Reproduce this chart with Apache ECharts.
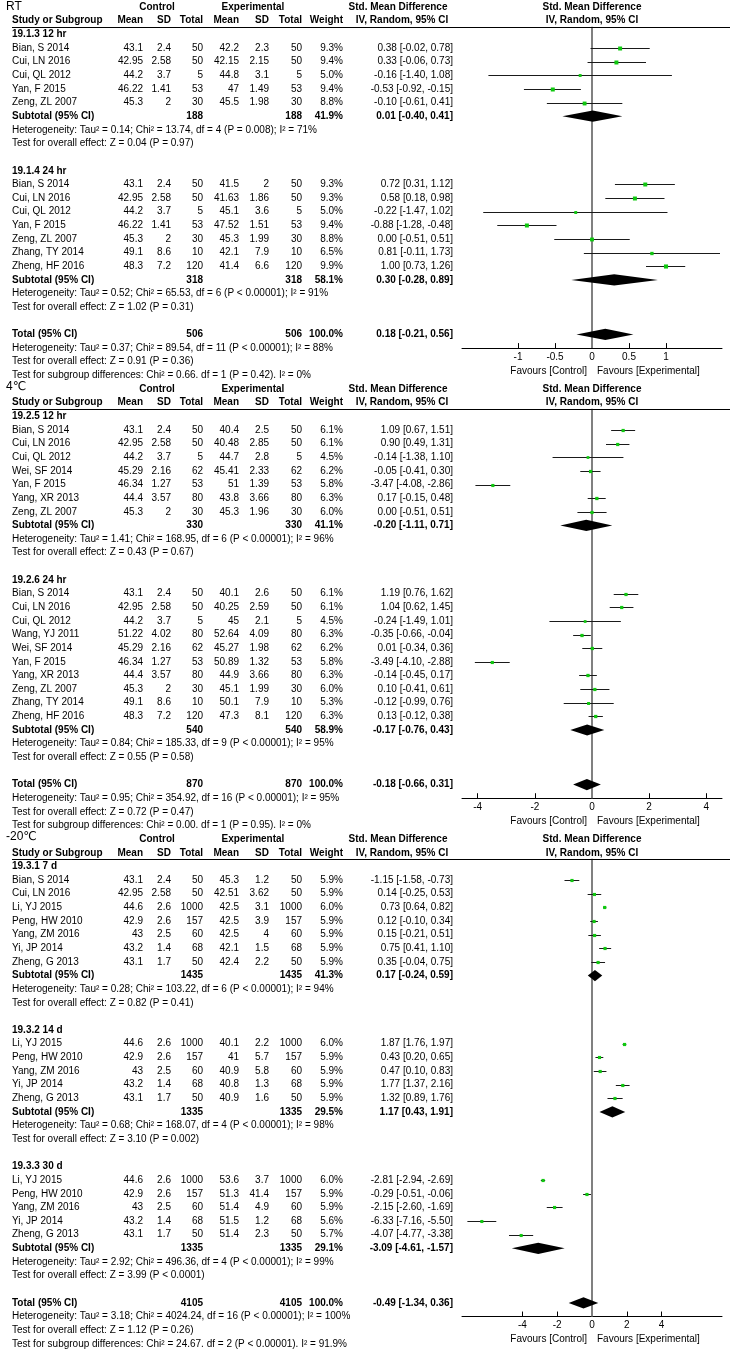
<!DOCTYPE html>
<html><head><meta charset="utf-8">
<script src="https://cdn.jsdelivr.net/npm/echarts@6/dist/echarts.min.js"></script>
<style>html,body{margin:0;padding:0;background:#fff}#c{width:732px;height:1352px}</style>
</head><body><div id="c"></div>
<script>
// ---------- DATA ----------
const panelLabels = ['RT', '4℃', '-20℃'];
const subgroupTitles = ['19.1.3 12 hr', '19.1.4 24 hr', '19.2.5 12 hr', '19.2.6 24 hr', '19.3.1 7 d', '19.3.2 14 d', '19.3.3 30 d'];
// study, ctrl mean, ctrl sd, ctrl n, exp mean, exp sd, exp n, weight %, smd, lower, upper
const rt12hr = [
  ['Bian, S 2014', 43.1, 2.4, 50, 42.2, 2.3, 50, 9.3, 0.38, -0.02, 0.78],
  ['Cui, LN 2016', 42.95, 2.58, 50, 42.15, 2.15, 50, 9.4, 0.33, -0.06, 0.73],
  ['Cui, QL 2012', 44.2, 3.7, 5, 44.8, 3.1, 5, 5.0, -0.16, -1.40, 1.08],
  ['Yan, F 2015', 46.22, 1.41, 53, 47, 1.49, 53, 9.4, -0.53, -0.92, -0.15],
  ['Zeng, ZL 2007', 45.3, 2, 30, 45.5, 1.98, 30, 8.8, -0.10, -0.61, 0.41]
];
const rt12hrSub = [188, 188, 41.9, 0.01, -0.40, 0.41];
const rt12hrStats = ['Heterogeneity: Tau² = 0.14; Chi² = 13.74, df = 4 (P = 0.008); I² = 71%', 'Test for overall effect: Z = 0.04 (P = 0.97)'];
const rt24hr = [
  ['Bian, S 2014', 43.1, 2.4, 50, 41.5, 2, 50, 9.3, 0.72, 0.31, 1.12],
  ['Cui, LN 2016', 42.95, 2.58, 50, 41.63, 1.86, 50, 9.3, 0.58, 0.18, 0.98],
  ['Cui, QL 2012', 44.2, 3.7, 5, 45.1, 3.6, 5, 5.0, -0.22, -1.47, 1.02],
  ['Yan, F 2015', 46.22, 1.41, 53, 47.52, 1.51, 53, 9.4, -0.88, -1.28, -0.48],
  ['Zeng, ZL 2007', 45.3, 2, 30, 45.3, 1.99, 30, 8.8, 0.00, -0.51, 0.51],
  ['Zhang, TY 2014', 49.1, 8.6, 10, 42.1, 7.9, 10, 6.5, 0.81, -0.11, 1.73],
  ['Zheng, HF 2016', 48.3, 7.2, 120, 41.4, 6.6, 120, 9.9, 1.00, 0.73, 1.26]
];
const rt24hrSub = [318, 318, 58.1, 0.30, -0.28, 0.89];
const rt24hrStats = ['Heterogeneity: Tau² = 0.52; Chi² = 65.53, df = 6 (P < 0.00001); I² = 91%', 'Test for overall effect: Z = 1.02 (P = 0.31)'];
const rtTotal = [506, 506, 100.0, 0.18, -0.21, 0.56];
const rtTotalStats = ['Heterogeneity: Tau² = 0.37; Chi² = 89.54, df = 11 (P < 0.00001); I² = 88%', 'Test for overall effect: Z = 0.91 (P = 0.36)', 'Test for subgroup differences: Chi² = 0.66. df = 1 (P = 0.42). I² = 0%'];
const rtTicks = [-1, -0.5, 0, 0.5, 1];

const c4_12hr = [
  ['Bian, S 2014', 43.1, 2.4, 50, 40.4, 2.5, 50, 6.1, 1.09, 0.67, 1.51],
  ['Cui, LN 2016', 42.95, 2.58, 50, 40.48, 2.85, 50, 6.1, 0.90, 0.49, 1.31],
  ['Cui, QL 2012', 44.2, 3.7, 5, 44.7, 2.8, 5, 4.5, -0.14, -1.38, 1.10],
  ['Wei, SF 2014', 45.29, 2.16, 62, 45.41, 2.33, 62, 6.2, -0.05, -0.41, 0.30],
  ['Yan, F 2015', 46.34, 1.27, 53, 51, 1.39, 53, 5.8, -3.47, -4.08, -2.86],
  ['Yang, XR 2013', 44.4, 3.57, 80, 43.8, 3.66, 80, 6.3, 0.17, -0.15, 0.48],
  ['Zeng, ZL 2007', 45.3, 2, 30, 45.3, 1.96, 30, 6.0, 0.00, -0.51, 0.51]
];
const c4_12hrSub = [330, 330, 41.1, -0.20, -1.11, 0.71];
const c4_12hrStats = ['Heterogeneity: Tau² = 1.41; Chi² = 168.95, df = 6 (P < 0.00001); I² = 96%', 'Test for overall effect: Z = 0.43 (P = 0.67)'];
const c4_24hr = [
  ['Bian, S 2014', 43.1, 2.4, 50, 40.1, 2.6, 50, 6.1, 1.19, 0.76, 1.62],
  ['Cui, LN 2016', 42.95, 2.58, 50, 40.25, 2.59, 50, 6.1, 1.04, 0.62, 1.45],
  ['Cui, QL 2012', 44.2, 3.7, 5, 45, 2.1, 5, 4.5, -0.24, -1.49, 1.01],
  ['Wang, YJ 2011', 51.22, 4.02, 80, 52.64, 4.09, 80, 6.3, -0.35, -0.66, -0.04],
  ['Wei, SF 2014', 45.29, 2.16, 62, 45.27, 1.98, 62, 6.2, 0.01, -0.34, 0.36],
  ['Yan, F 2015', 46.34, 1.27, 53, 50.89, 1.32, 53, 5.8, -3.49, -4.10, -2.88],
  ['Yang, XR 2013', 44.4, 3.57, 80, 44.9, 3.66, 80, 6.3, -0.14, -0.45, 0.17],
  ['Zeng, ZL 2007', 45.3, 2, 30, 45.1, 1.99, 30, 6.0, 0.10, -0.41, 0.61],
  ['Zhang, TY 2014', 49.1, 8.6, 10, 50.1, 7.9, 10, 5.3, -0.12, -0.99, 0.76],
  ['Zheng, HF 2016', 48.3, 7.2, 120, 47.3, 8.1, 120, 6.3, 0.13, -0.12, 0.38]
];
const c4_24hrSub = [540, 540, 58.9, -0.17, -0.76, 0.43];
const c4_24hrStats = ['Heterogeneity: Tau² = 0.84; Chi² = 185.33, df = 9 (P < 0.00001); I² = 95%', 'Test for overall effect: Z = 0.55 (P = 0.58)'];
const c4Total = [870, 870, 100.0, -0.18, -0.66, 0.31];
const c4TotalStats = ['Heterogeneity: Tau² = 0.95; Chi² = 354.92, df = 16 (P < 0.00001); I² = 95%', 'Test for overall effect: Z = 0.72 (P = 0.47)', 'Test for subgroup differences: Chi² = 0.00. df = 1 (P = 0.95). I² = 0%'];
const c4Ticks = [-4, -2, 0, 2, 4];

const m20_7d = [
  ['Bian, S 2014', 43.1, 2.4, 50, 45.3, 1.2, 50, 5.9, -1.15, -1.58, -0.73],
  ['Cui, LN 2016', 42.95, 2.58, 50, 42.51, 3.62, 50, 5.9, 0.14, -0.25, 0.53],
  ['Li, YJ 2015', 44.6, 2.6, 1000, 42.5, 3.1, 1000, 6.0, 0.73, 0.64, 0.82],
  ['Peng, HW 2010', 42.9, 2.6, 157, 42.5, 3.9, 157, 5.9, 0.12, -0.10, 0.34],
  ['Yang, ZM 2016', 43, 2.5, 60, 42.5, 4, 60, 5.9, 0.15, -0.21, 0.51],
  ['Yi, JP 2014', 43.2, 1.4, 68, 42.1, 1.5, 68, 5.9, 0.75, 0.41, 1.10],
  ['Zheng, G 2013', 43.1, 1.7, 50, 42.4, 2.2, 50, 5.9, 0.35, -0.04, 0.75]
];
const m20_7dSub = [1435, 1435, 41.3, 0.17, -0.24, 0.59];
const m20_7dStats = ['Heterogeneity: Tau² = 0.28; Chi² = 103.22, df = 6 (P < 0.00001); I² = 94%', 'Test for overall effect: Z = 0.82 (P = 0.41)'];
const m20_14d = [
  ['Li, YJ 2015', 44.6, 2.6, 1000, 40.1, 2.2, 1000, 6.0, 1.87, 1.76, 1.97],
  ['Peng, HW 2010', 42.9, 2.6, 157, 41, 5.7, 157, 5.9, 0.43, 0.20, 0.65],
  ['Yang, ZM 2016', 43, 2.5, 60, 40.9, 5.8, 60, 5.9, 0.47, 0.10, 0.83],
  ['Yi, JP 2014', 43.2, 1.4, 68, 40.8, 1.3, 68, 5.9, 1.77, 1.37, 2.16],
  ['Zheng, G 2013', 43.1, 1.7, 50, 40.9, 1.6, 50, 5.9, 1.32, 0.89, 1.76]
];
const m20_14dSub = [1335, 1335, 29.5, 1.17, 0.43, 1.91];
const m20_14dStats = ['Heterogeneity: Tau² = 0.68; Chi² = 168.07, df = 4 (P < 0.00001); I² = 98%', 'Test for overall effect: Z = 3.10 (P = 0.002)'];
const m20_30d = [
  ['Li, YJ 2015', 44.6, 2.6, 1000, 53.6, 3.7, 1000, 6.0, -2.81, -2.94, -2.69],
  ['Peng, HW 2010', 42.9, 2.6, 157, 51.3, 41.4, 157, 5.9, -0.29, -0.51, -0.06],
  ['Yang, ZM 2016', 43, 2.5, 60, 51.4, 4.9, 60, 5.9, -2.15, -2.60, -1.69],
  ['Yi, JP 2014', 43.2, 1.4, 68, 51.5, 1.2, 68, 5.6, -6.33, -7.16, -5.50],
  ['Zheng, G 2013', 43.1, 1.7, 50, 51.4, 2.3, 50, 5.7, -4.07, -4.77, -3.38]
];
const m20_30dSub = [1335, 1335, 29.1, -3.09, -4.61, -1.57];
const m20_30dStats = ['Heterogeneity: Tau² = 2.92; Chi² = 496.36, df = 4 (P < 0.00001); I² = 99%', 'Test for overall effect: Z = 3.99 (P < 0.0001)'];
const m20Total = [4105, 4105, 100.0, -0.49, -1.34, 0.36];
const m20TotalStats = ['Heterogeneity: Tau² = 3.18; Chi² = 4024.24, df = 16 (P < 0.00001); I² = 100%', 'Test for overall effect: Z = 1.12 (P = 0.26)', 'Test for subgroup differences: Chi² = 24.67. df = 2 (P < 0.00001). I² = 91.9%'];
const m20Ticks = [-4, -2, 0, 2, 4];

// ---------- LAYOUT ----------
const FONT = '"Liberation Sans", Arial, "DejaVu Sans", "Noto Sans CJK SC", sans-serif';
const FS = 10;
const Y0 = 7.1, PITCH = 13.64, W = 732, H = 1352;
const NAME_X = 12;
const COLX = [143, 171, 203, 239, 269, 302, 343, 453];
const PLOT_L = 462, PLOT_W = 260, ZERO_X = 592;

const panels = [
  {label: panelLabels[0], groups: [[subgroupTitles[0], rt12hr, rt12hrSub, rt12hrStats], [subgroupTitles[1], rt24hr, rt24hrSub, rt24hrStats]], total: rtTotal, totalStats: rtTotalStats, range: 1.757, ticks: rtTicks},
  {label: panelLabels[1], groups: [[subgroupTitles[2], c4_12hr, c4_12hrSub, c4_12hrStats], [subgroupTitles[3], c4_24hr, c4_24hrSub, c4_24hrStats]], total: c4Total, totalStats: c4TotalStats, range: 4.55, ticks: c4Ticks},
  {label: panelLabels[2], groups: [[subgroupTitles[4], m20_7d, m20_7dSub, m20_7dStats], [subgroupTitles[5], m20_14d, m20_14dSub, m20_14dStats], [subgroupTitles[6], m20_30d, m20_30dSub, m20_30dStats]], total: m20Total, totalStats: m20TotalStats, range: 7.47, ticks: m20Ticks}
];

const fmt2 = v => v.toFixed(2);
const effStr = (e, l, u) => fmt2(e) + ' [' + fmt2(l) + ', ' + fmt2(u) + ']';

const cells = [];
const hlines = [];
const studyPts = [[], [], []];
const diamonds = [[], [], []];
const panelGeo = [];
let r = 0;
panels.forEach((p, pi) => {
  const h1 = r, h2 = r + 1;
  cells.push({x: 6, r: Math.max(h1 - 0.15, -0.05), t: p.label, s: 12});
  cells.push({x: 157, r: h1, t: 'Control', b: 1, a: 'center'});
  cells.push({x: 253, r: h1, t: 'Experimental', b: 1, a: 'center'});
  cells.push({x: 398, r: h1, t: 'Std. Mean Difference', b: 1, a: 'center'});
  cells.push({x: ZERO_X, r: h1, t: 'Std. Mean Difference', b: 1, a: 'center'});
  cells.push({x: NAME_X, r: h2, t: 'Study or Subgroup', b: 1});
  ['Mean', 'SD', 'Total', 'Mean', 'SD', 'Total', 'Weight'].forEach((t, i) => cells.push({x: COLX[i], r: h2, t, b: 1, a: 'right'}));
  cells.push({x: 402, r: h2, t: 'IV, Random, 95% CI', b: 1, a: 'center'});
  cells.push({x: ZERO_X, r: h2, t: 'IV, Random, 95% CI', b: 1, a: 'center'});
  hlines.push([12, 730, h2 + 0.44]);
  r += 2;
  p.groups.forEach((g, gi) => {
    if (gi > 0) r++;
    cells.push({x: NAME_X, r, t: g[0], b: 1}); r++;
    g[1].forEach(row => {
      cells.push({x: NAME_X, r, t: row[0]});
      for (let k = 1; k <= 6; k++) cells.push({x: COLX[k - 1], r, t: String(row[k]), a: 'right'});
      cells.push({x: COLX[6], r, t: row[7].toFixed(1) + '%', a: 'right'});
      cells.push({x: COLX[7], r, t: effStr(row[8], row[9], row[10]), a: 'right'});
      studyPts[pi].push([row[8], row[9], row[10], r, row[7]]);
      r++;
    });
    const s = g[2];
    cells.push({x: NAME_X, r, t: 'Subtotal (95% CI)', b: 1});
    cells.push({x: COLX[2], r, t: String(s[0]), b: 1, a: 'right'});
    cells.push({x: COLX[5], r, t: String(s[1]), b: 1, a: 'right'});
    cells.push({x: COLX[6], r, t: s[2].toFixed(1) + '%', b: 1, a: 'right'});
    cells.push({x: COLX[7], r, t: effStr(s[3], s[4], s[5]), b: 1, a: 'right'});
    diamonds[pi].push([s[3], s[4], s[5], r]);
    r++;
    g[3].forEach(t => { cells.push({x: NAME_X, r, t}); r++; });
  });
  r++;
  const tot = p.total, totRow = r;
  cells.push({x: NAME_X, r, t: 'Total (95% CI)', b: 1});
  cells.push({x: COLX[2], r, t: String(tot[0]), b: 1, a: 'right'});
  cells.push({x: COLX[5], r, t: String(tot[1]), b: 1, a: 'right'});
  cells.push({x: COLX[6], r, t: tot[2].toFixed(1) + '%', b: 1, a: 'right'});
  cells.push({x: COLX[7], r, t: effStr(tot[3], tot[4], tot[5]), b: 1, a: 'right'});
  diamonds[pi].push([tot[3], tot[4], tot[5], r]);
  r++;
  p.totalStats.forEach(t => { cells.push({x: NAME_X, r, t}); r++; });
  cells.push({x: 587, r: totRow + 2.7, t: 'Favours [Control]', a: 'right'});
  cells.push({x: 597, r: totRow + 2.7, t: 'Favours [Experimental]', a: 'left'});
  panelGeo.push({top: h2 + 0.44, bottom: totRow + 1});
});

const rowPx = v => Y0 + v * PITCH;

// ---------- CHART ----------
const chart = echarts.init(document.getElementById('c'), null, {renderer: 'canvas', width: W, height: H});
const grids = [], xAxes = [], yAxes = [], series = [];

panels.forEach((p, pi) => {
  const g = panelGeo[pi];
  const top = rowPx(g.top), bot = rowPx(g.bottom);
  grids.push({left: PLOT_L, width: PLOT_W, top: top, height: bot - top, outerBoundsMode: 'none', containLabel: false});
  xAxes.push({
    gridIndex: pi, type: 'value', min: -p.range, max: p.range,
    axisLine: {show: true, onZero: false, lineStyle: {color: '#000', width: 1}},
    axisTick: {show: true, inside: true, length: 5, customValues: p.ticks, lineStyle: {color: '#000', width: 1}},
    axisLabel: {show: true, customValues: p.ticks, margin: 4, fontSize: FS, color: '#000', fontFamily: FONT},
    splitLine: {show: false}
  });
  yAxes.push({gridIndex: pi, type: 'value', inverse: true, min: g.top, max: g.bottom, show: false});
  series.push({
    type: 'line', xAxisIndex: pi, yAxisIndex: pi, silent: true, symbol: 'none',
    data: [[0, g.top], [0, g.bottom]], lineStyle: {color: '#808080', width: 2}, z: 1
  });
  series.push({
    type: 'custom', xAxisIndex: pi, yAxisIndex: pi, silent: true, z: 3,
    encode: {x: [0, 1, 2], y: 3},
    data: studyPts[pi],
    renderItem: (params, api) => {
      const est = api.value(0), lo = api.value(1), hi = api.value(2), row = api.value(3), w = api.value(4);
      const a = api.coord([lo, row]), b = api.coord([hi, row]), c = api.coord([est, row]);
      const y = Math.round(c[1]) + 0.5;
      const s = Math.max(2, Math.sqrt(w) * 1.3);
      return {type: 'group', children: [
        {type: 'line', shape: {x1: a[0], y1: y, x2: b[0], y2: y}, style: {stroke: '#1a1a1a', lineWidth: 1}},
        {type: 'rect', shape: {x: c[0] - s / 2, y: y - s / 2, width: s, height: s}, style: {fill: '#10c810'}}
      ]};
    }
  });
  series.push({
    type: 'custom', xAxisIndex: pi, yAxisIndex: pi, silent: true, z: 4,
    encode: {x: [0, 1, 2], y: 3},
    data: diamonds[pi],
    renderItem: (params, api) => {
      const est = api.value(0), lo = api.value(1), hi = api.value(2), row = api.value(3);
      const L = api.coord([lo, row]), R = api.coord([hi, row]), C = api.coord([est, row]);
      const h = 5.6;
      return {type: 'polygon', shape: {points: [[L[0], C[1]], [C[0], C[1] - h], [R[0], C[1]], [C[0], C[1] + h]]}, style: {fill: '#000'}};
    }
  });
});

// table grid (index 3)
grids.push({left: 0, top: 0, width: W, height: H, outerBoundsMode: 'none', containLabel: false});
xAxes.push({gridIndex: 3, type: 'value', min: 0, max: W, show: false});
yAxes.push({gridIndex: 3, type: 'value', inverse: true, min: -Y0 / PITCH, max: (H - Y0) / PITCH, show: false});
series.push({
  type: 'custom', xAxisIndex: 3, yAxisIndex: 3, silent: true, z: 5,
  encode: {x: 0, y: 1},
  data: cells.map((c, i) => [c.x, c.r, i]),
  renderItem: (params, api) => {
    const c = cells[api.value(2)];
    const p = api.coord([api.value(0), api.value(1)]);
    return {type: 'text', x: p[0], y: p[1], style: {
      text: c.t, fill: '#000', align: c.a || 'left', verticalAlign: 'middle',
      font: (c.b ? 'bold ' : '') + (c.s || FS) + 'px ' + FONT
    }};
  }
});
series.push({
  type: 'custom', xAxisIndex: 3, yAxisIndex: 3, silent: true, z: 5,
  encode: {x: [0, 1], y: 2},
  data: hlines,
  renderItem: (params, api) => {
    const a = api.coord([api.value(0), api.value(2)]), b = api.coord([api.value(1), api.value(2)]);
    const y = Math.round(a[1]) + 0.5;
    return {type: 'line', shape: {x1: a[0], y1: y, x2: b[0], y2: y}, style: {stroke: '#000', lineWidth: 1}};
  }
});

chart.setOption({
  animation: false,
  backgroundColor: '#fff',
  grid: grids, xAxis: xAxes, yAxis: yAxes, series: series
});
</script>
</body></html>
